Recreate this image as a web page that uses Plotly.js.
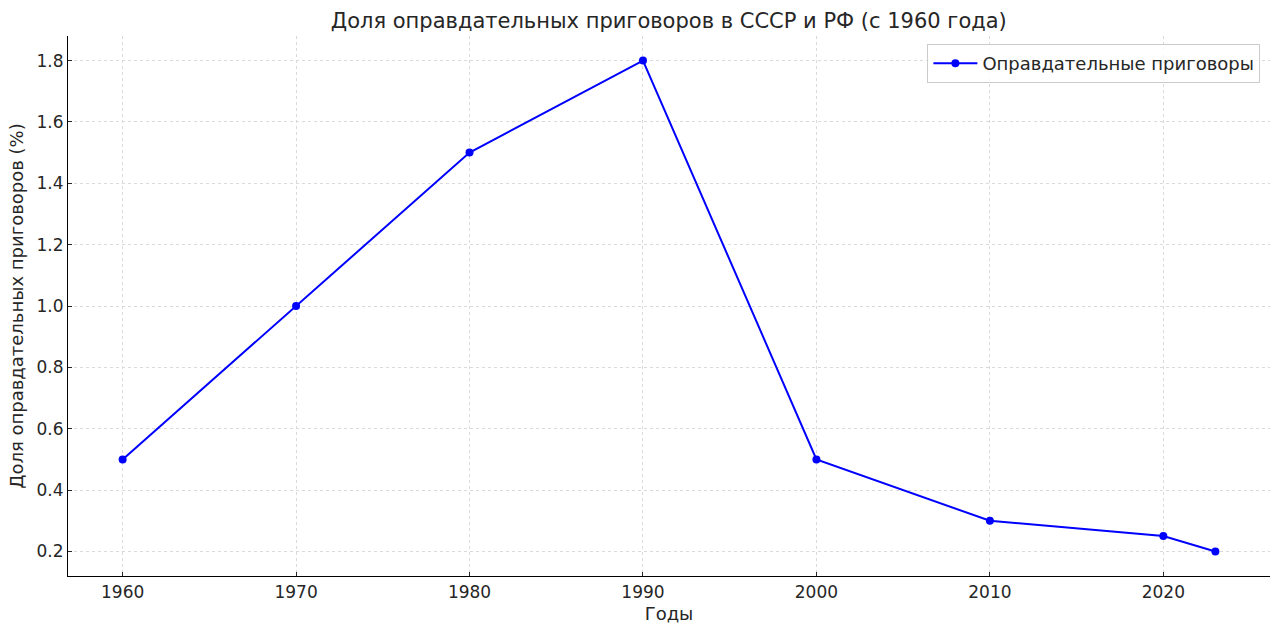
<!DOCTYPE html>
<html><head><meta charset="utf-8">
<script src="https://cdn.plot.ly/plotly-3.0.1.min.js"></script>
<style>html,body{margin:0;padding:0;background:#fff;}#chart{width:1280px;height:634px;}</style>
</head><body><div id="chart"></div>
<script>
const years = [1960, 1970, 1980, 1990, 2000, 2010, 2020, 2023];
const acquittalShare = [0.5, 1.0, 1.5, 1.8, 0.5, 0.3, 0.25, 0.2];
const xTicks = [1960, 1970, 1980, 1990, 2000, 2010, 2020];
const yTicks = [0.2, 0.4, 0.6, 0.8, 1.0, 1.2, 1.4, 1.6, 1.8];
const yTickText = yTicks.map(v => v.toFixed(1));

const font = 'DejaVu Sans, sans-serif';
const txt = '#262626';

Plotly.newPlot('chart', [{
  x: years, y: acquittalShare, type: 'scatter', mode: 'lines+markers',
  name: 'Оправдательные приговоры',
  line: {color: '#0000ff', width: 2},
  marker: {color: '#0000ff', size: 8}
}], {
  width: 1280, height: 634,
  paper_bgcolor: '#fff', plot_bgcolor: '#fff',
  margin: {l: 68, r: 10, t: 36, b: 58},
  font: {family: font, color: txt, size: 17},
  title: {text: 'Доля оправдательных приговоров в СССР и РФ (с 1960 года)', font: {size: 21, color: txt, family: font}, x: 0.5225, xanchor: 'center', y: 0.968, yanchor: 'middle'},
  xaxis: {
    range: [1956.85, 2026.15], tickvals: xTicks, ticktext: xTicks.map(String),
    ticks: 'inside', ticklen: 4, tickcolor: '#262626',
    showline: true, linecolor: '#000', linewidth: 1.2, mirror: false,
    showgrid: true, gridcolor: '#dadada', griddash: '3px,3px', gridwidth: 0.8,
    zeroline: false, tickfont: {size: 17},
    title: {text: 'Годы', font: {size: 18}, standoff: 6}
  },
  yaxis: {
    range: [0.12, 1.88], tickvals: yTicks, ticktext: yTickText,
    ticks: 'inside', ticklen: 4, tickcolor: '#262626',
    showline: true, linecolor: '#000', linewidth: 1.2, mirror: false,
    showgrid: true, gridcolor: '#dadada', griddash: '3px,3px', gridwidth: 0.8,
    zeroline: false, tickfont: {size: 17},
    title: {text: 'Доля оправдательных приговоров (%)', font: {size: 18}, standoff: 8}
  },
  showlegend: true,
  legend: {x: 0.992, y: 0.985, xanchor: 'right', yanchor: 'top', itemwidth: 44, bgcolor: 'rgba(255,255,255,0.8)', bordercolor: '#cccccc', borderwidth: 1, font: {size: 18, color: txt}}
}, {displayModeBar: false});
</script></body></html>
